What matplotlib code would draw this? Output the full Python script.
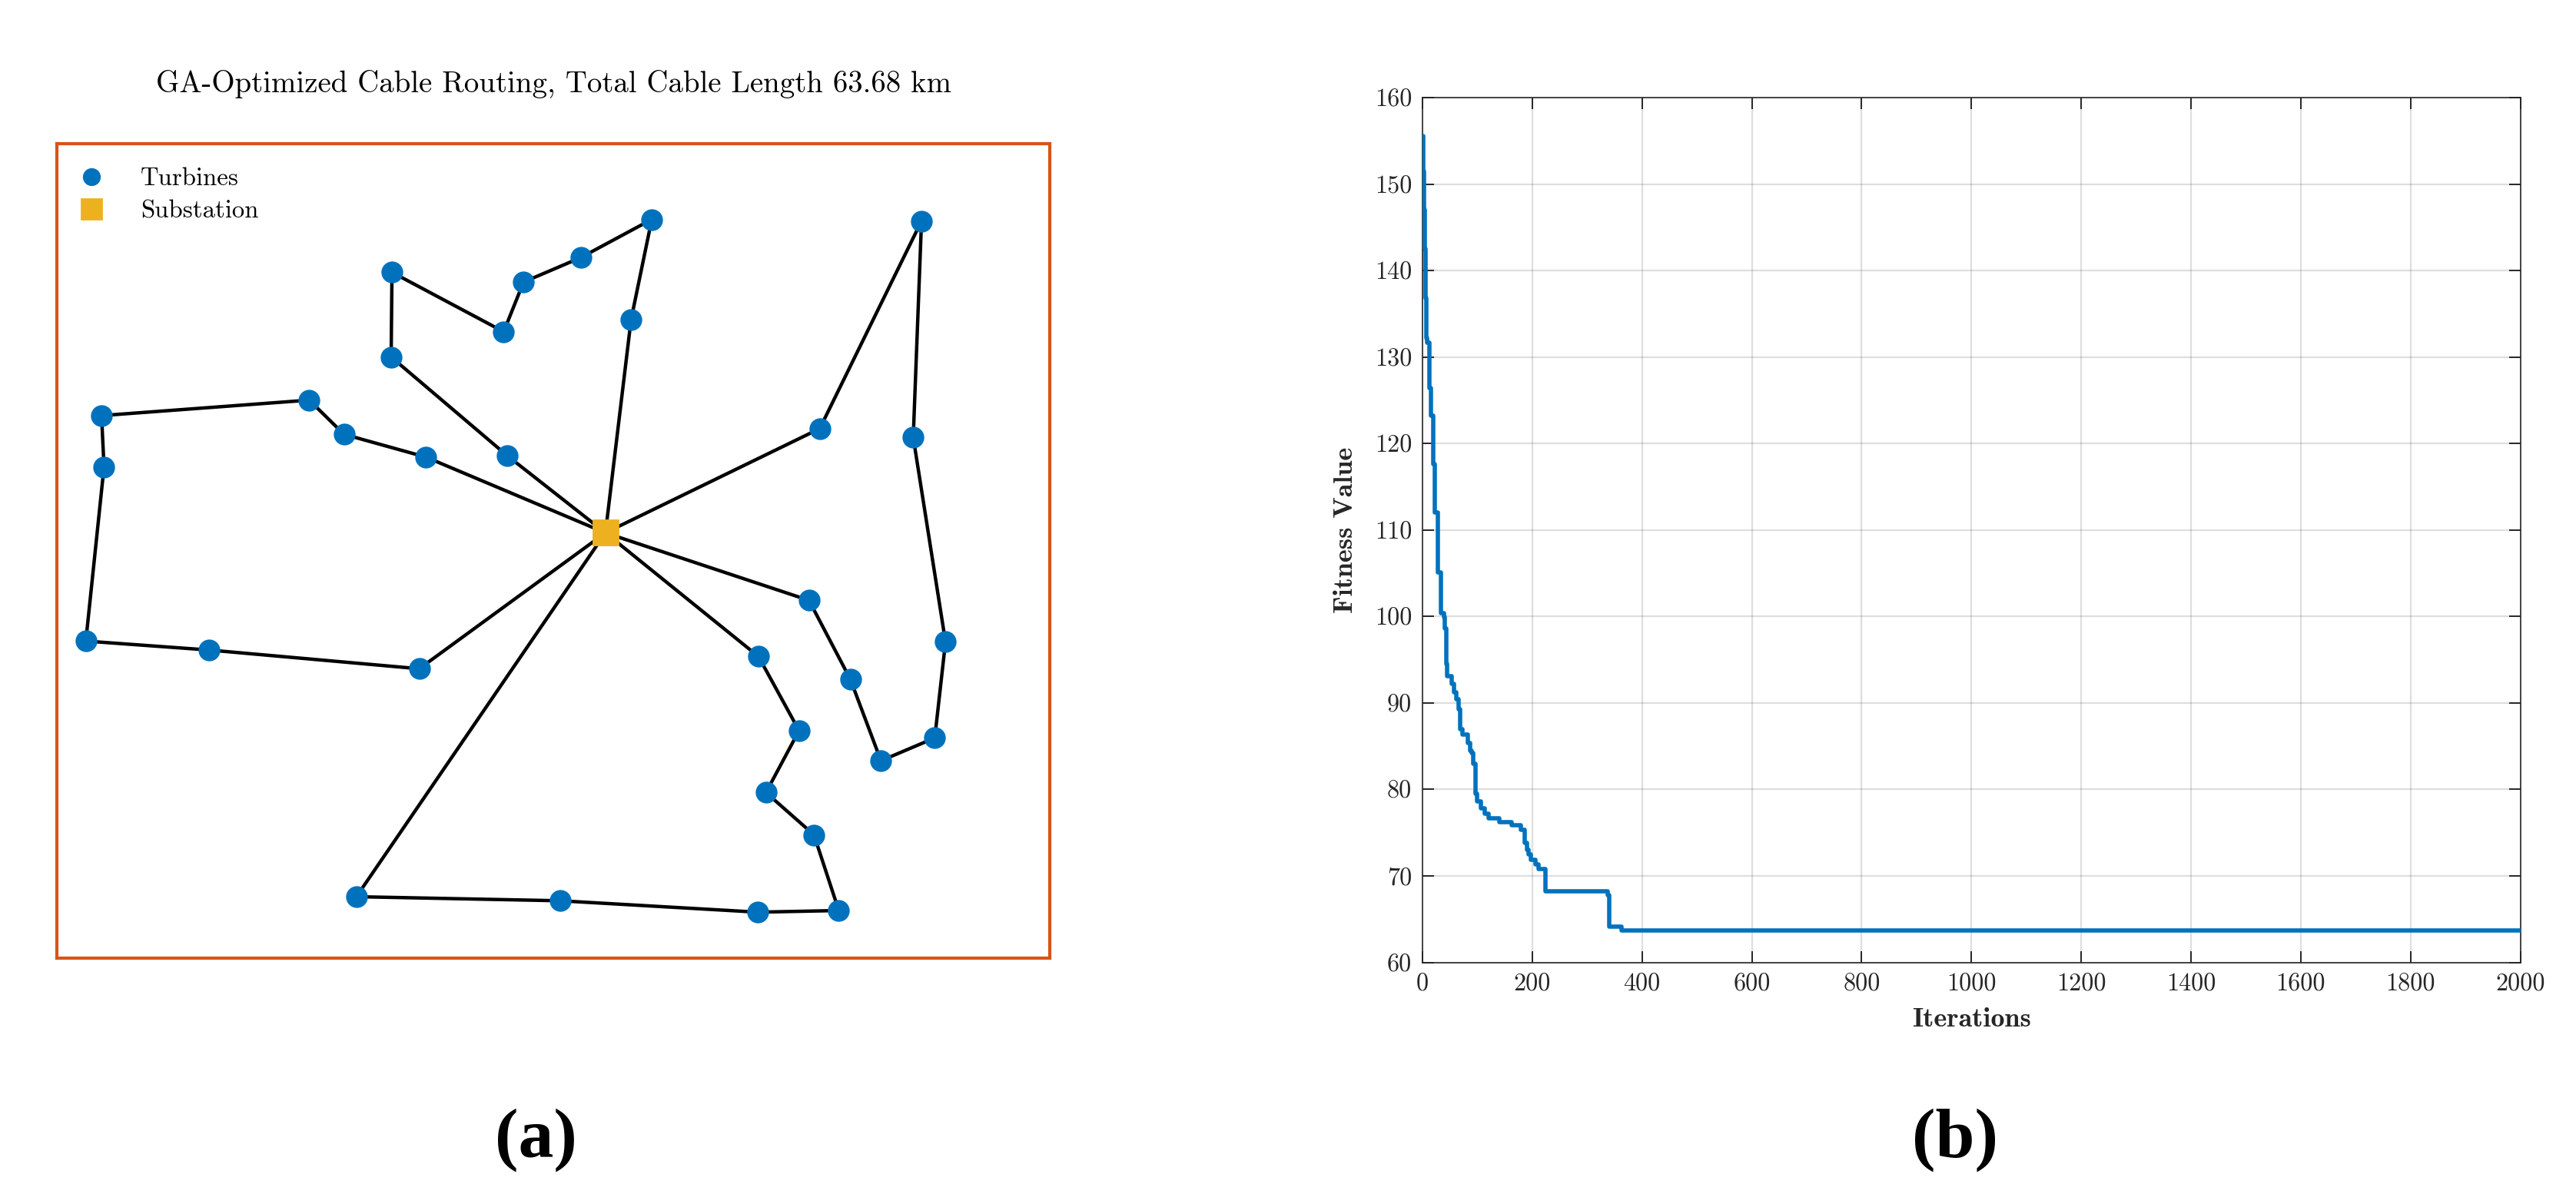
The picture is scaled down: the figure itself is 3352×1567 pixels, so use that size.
import numpy as np
import matplotlib
matplotlib.use("Agg")
import matplotlib.pyplot as plt

plt.rcParams['font.family'] = ['cmr10', 'DejaVu Serif']
plt.rcParams['mathtext.fontset'] = 'cm'
plt.rcParams['axes.formatter.use_mathtext'] = True

# ---------------- data: panel (a) ----------------
turbine_x = [7.19, 6.33, 5.64, 5.40, 4.05, 4.04, 5.44, 6.94, 3.05, 3.47, 4.46,
             0.54, 0.57, 0.35, 1.84, 4.38, 10.45, 9.22, 10.35, 10.74, 10.61,
             9.96, 9.59, 9.09, 8.48, 8.97, 8.57, 9.15, 9.45, 8.47, 6.08, 3.62]
turbine_y = [9.07, 8.60, 8.30, 7.69, 8.42, 7.38, 6.17, 7.84, 6.85, 6.43, 6.15,
             6.66, 6.03, 3.89, 3.78, 3.55, 9.05, 6.50, 6.39, 3.88, 2.70,
             2.42, 3.42, 4.39, 3.70, 2.79, 2.03, 1.51, 0.58, 0.56, 0.70, 0.75]
substation_x = [6.63]
substation_y = [5.22]
# cable loops (turbine indices), each starting and ending at the substation
routes = [
    [6, 5, 4, 3, 2, 1, 0, 7],
    [10, 9, 8, 11, 12, 13, 14, 15],
    [17, 16, 18, 19, 20, 21, 22, 23],
    [24, 25, 26, 27, 28, 29, 30, 31],
]
farm_width = 12.0
farm_height = 10.0
title_a = 'GA-Optimized Cable Routing, Total Cable Length 63.68 km'

# ---------------- data: panel (b) ----------------
change_iter = [0, 2, 3, 4, 5, 6, 7, 8, 12, 16, 19, 23, 28, 34, 39, 41, 43, 45,
               53, 58, 62, 66, 69, 73, 83, 87, 89, 92, 96, 100, 107, 114, 121,
               140, 163, 179, 186, 190, 193, 197, 206, 211, 224, 338, 340, 362,
               2000]
change_value = [155.6, 151.5, 147.0, 142.5, 139.0, 136.8, 132.2, 131.7, 126.4,
                123.2, 117.6, 112.0, 105.1, 100.4, 99.9, 98.6, 94.5, 93.1, 92.2,
                91.2, 90.4, 89.3, 87.0, 86.3, 85.4, 84.5, 84.2, 83.0, 79.5, 78.6,
                77.85, 77.2, 76.7, 76.2, 75.9, 75.3, 73.8, 73.0, 72.5, 71.9, 71.3,
                70.8, 68.2, 67.8, 64.1, 63.68, 63.68]
xticks_b = [0, 200, 400, 600, 800, 1000, 1200, 1400, 1600, 1800, 2000]
yticks_b = [60, 70, 80, 90, 100, 110, 120, 130, 140, 150, 160]

BLUE = '#0072BD'
ORANGE = '#D95319'
YELLOW = '#EDB120'
AX_COL = '#262626'

W, H = 3352, 1567
DPI = 200
fig = plt.figure(figsize=(W / DPI, H / DPI), dpi=DPI)

def fx(px):
    return px / W

def fy(py):
    return 1 - py / H

# ---------------- panel (a) ----------------
axa = fig.add_axes([fx(74), fy(1246.5), fx(1366) - fx(74), fy(187) - fy(1246.5)])
axa.set_xlim(0, farm_width)
axa.set_ylim(0, farm_height)
for r in routes:
    loop = [None] + r + [None]
    xs = [substation_x[0] if i is None else turbine_x[i] for i in loop]
    ys = [substation_y[0] if i is None else turbine_y[i] for i in loop]
    axa.plot(xs, ys, color='black', lw=1.6, zorder=2)
h1, = axa.plot(turbine_x, turbine_y, linestyle='none', marker='o', ms=9.2,
               mfc=BLUE, mec=BLUE, zorder=3, label='Turbines')
h2, = axa.plot(substation_x, substation_y, linestyle='none', marker='s', ms=11.5,
               mfc=YELLOW, mec=YELLOW, zorder=4, label='Substation')
axa.set_xticks([])
axa.set_yticks([])
for s in axa.spines.values():
    s.set_color(ORANGE)
    s.set_linewidth(1.5)
fig.text(fx(720), fy(109), title_a, ha='center', va='center', fontsize=14.0,
         color='black')
fs_leg = 11.8
leg = axa.legend(handles=[h1, h2], loc='upper left',
                 bbox_to_anchor=(fx(103), fy(218)), bbox_transform=fig.transFigure,
                 frameon=False, fontsize=fs_leg, handlelength=1.0,
                 handletextpad=1.45, borderpad=0, borderaxespad=0,
                 labelspacing=0.42, markerscale=0.8)

# ---------------- panel (b) ----------------
axb = fig.add_axes([fx(1851), fy(1252.5), fx(3279.5) - fx(1851), fy(127) - fy(1252.5)])
axb.plot(change_iter, change_value, drawstyle='steps-post', color=BLUE, lw=2.0,
         zorder=3)
axb.set_xlim(0, 2000)
axb.set_ylim(60, 160)
axb.set_xticks(xticks_b)
axb.set_yticks(yticks_b)
axb.set_xticklabels([str(v) for v in xticks_b])
axb.set_yticklabels([str(v) for v in yticks_b])
axb.grid(True, color=AX_COL, alpha=0.15, lw=0.8)
axb.set_axisbelow(True)
axb.tick_params(direction='in', length=5.3, width=0.7, colors=AX_COL,
                labelsize=11.6, top=True, right=True, pad=5)
for s in axb.spines.values():
    s.set_color(AX_COL)
    s.set_linewidth(0.6)
axb.set_xlabel('Iterations', fontfamily='cmb10', fontsize=13, color=AX_COL)
axb.set_ylabel('Fitness Value', fontfamily='cmb10', fontsize=13, color=AX_COL)
axb.xaxis.set_label_coords(0.5, (1252.5 - 1312) / 1125.5)
axb.xaxis.label.set_va('top')
axb.yaxis.set_label_coords((1767 - 1851) / 1428.5, 0.5)

# ---------------- panel labels ----------------
fig.text(fx(697), fy(1484), '(a)', ha='center', va='center', fontsize=33,
         fontweight='bold', family=['Liberation Serif'])
fig.text(fx(2544), fy(1484), '(b)', ha='center', va='center', fontsize=33,
         fontweight='bold', family=['Liberation Serif'])

fig.savefig('out.png', dpi=DPI)
